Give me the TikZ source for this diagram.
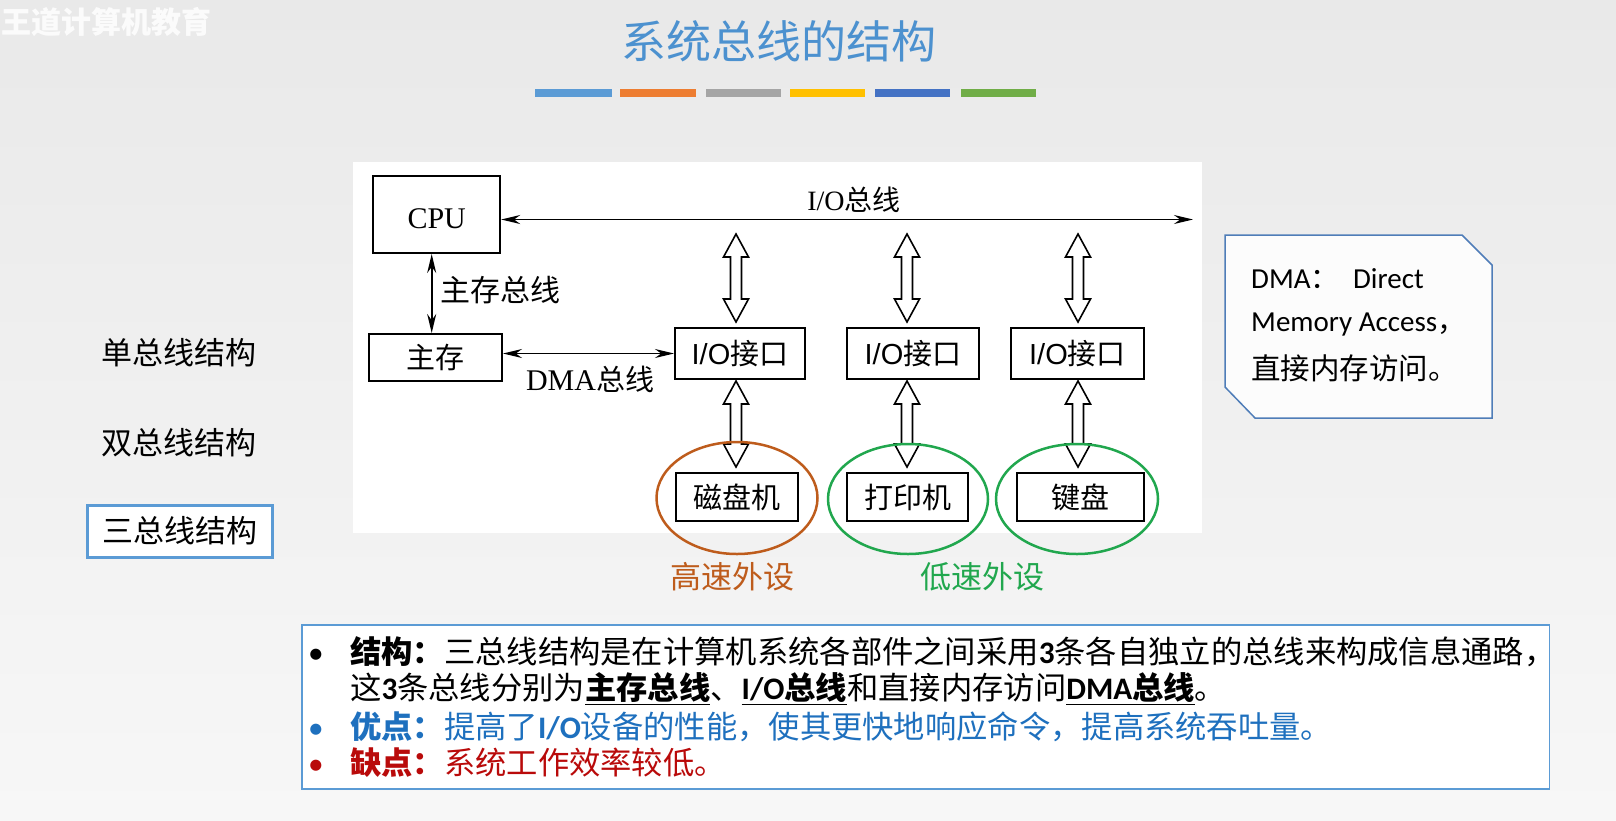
\documentclass[tikz,border=0pt]{standalone}
\usepackage{fontspec}
\setmainfont{Noto Sans CJK SC}
\newfontfamily\calfont{Carlito}
\newfontfamily\tmsfont{Liberation Serif}
\newfontfamily\arfont{Liberation Sans}
\usetikzlibrary{arrows.meta,calc}
\definecolor{bgtop}{RGB}{233,233,233}
\definecolor{bgbot}{RGB}{247,247,247}
\definecolor{titleblue}{RGB}{76,145,207}
\definecolor{barA}{HTML}{5B9BD5}
\definecolor{barB}{HTML}{ED7D31}
\definecolor{barC}{HTML}{A5A5A5}
\definecolor{barD}{HTML}{FFC000}
\definecolor{barE}{HTML}{4472C4}
\definecolor{barF}{HTML}{70AD47}
\definecolor{boxblue}{HTML}{5B9BD5}
\definecolor{noteblue}{RGB}{79,125,184}
\definecolor{hsbrown}{RGB}{190,92,28}
\definecolor{lsgreen}{RGB}{33,167,78}
\definecolor{txtblue}{RGB}{30,112,190}
\definecolor{txtred}{RGB}{185,10,10}
\newcommand\hollow[2]{%
  \draw[harrow] let \p1=(#1), \p2=(#2) in
    (\x1,\y1) -- (\x1+12.5pt,\y1-23pt) -- (\x1+5.5pt,\y1-23pt) -- (\x1+5.5pt,\y2+23pt)
    -- (\x1+12.5pt,\y2+23pt) -- (\x1,\y2) -- (\x1-12.5pt,\y2+23pt) -- (\x1-5.5pt,\y2+23pt)
    -- (\x1-5.5pt,\y1-23pt) -- (\x1-12.5pt,\y1-23pt) -- cycle;}
\begin{document}
\begin{tikzpicture}[x=1pt,y=-1pt,
  side/.style={inner sep=0pt, font=\fontsize{31}{31}\selectfont},
  blk/.style={draw=black, line width=2pt, fill=white, inner sep=0pt, font=\fontsize{29}{29}\selectfont},
  lbl/.style={inner sep=0pt, font=\fontsize{29}{29}\selectfont},
  bus/.style={line width=1.6pt, {Stealth[length=19pt,width=9pt]}-{Stealth[length=19pt,width=9pt]}},
  harrow/.style={draw=black, line width=1.6pt, fill=white, line join=miter},
  txt/.style={anchor=base west, inner sep=0pt, font=\fontsize{31.3}{31.3}\selectfont},
  note/.style={anchor=base west, inner sep=0pt, font=\fontsize{28.5}{28.5}\selectfont}]
\useasboundingbox (0,0) rectangle (1616,820);
\shade[top color=bgtop, bottom color=bgbot] (0,0) rectangle (1616,820);
% watermark
\node[anchor=west, inner sep=0pt, text=white, opacity=0.85, font=\fontsize{30}{30}\selectfont\bfseries] (wm) at (1,22) {王道计算机教育};
% title
\node[inner sep=0pt, text=titleblue, font=\fontsize{45}{45}\selectfont] (title) at (779,41) {系统总线的结构};
\fill[barA] (535,89) rectangle (612,97);
\fill[barB] (620,89) rectangle (696,97);
\fill[barC] (706,89) rectangle (781,97);
\fill[barD] (790,89) rectangle (865,97);
\fill[barE] (875,89) rectangle (950,97);
\fill[barF] (961,89) rectangle (1036,97);
% left menu
\node[side] (s1) at (179,353) {单总线结构};
\node[side] (s2) at (179,443) {双总线结构};
\node[side, draw=boxblue, line width=3pt, fill=white, minimum width=185pt, minimum height=52pt] (s3) at (179.5,531) {三总线结构};
% diagram panel
\fill[white] (353,162) rectangle (1202,533);
\node[blk, minimum width=127pt, minimum height=77pt] (cpu) at (436.7,214.5) {\raisebox{-14pt}[0pt][0pt]{\tmsfont\fontsize{30}{30}\selectfont CPU}};
\node[blk, minimum width=133pt, minimum height=47pt] (mem) at (435.5,357.5) {主存};
\node[blk, minimum width=130pt, minimum height=51pt] (io1) at (740,353.5) {{\arfont I/O}接口};
\node[blk, minimum width=132pt, minimum height=51pt] (io2) at (913,353.5) {{\arfont I/O}接口};
\node[blk, minimum width=133pt, minimum height=51pt] (io3) at (1077.5,353.5) {{\arfont I/O}接口};
\node[blk, minimum width=122pt, minimum height=48pt] (dev1) at (736.5,497) {磁盘机};
\node[blk, minimum width=121pt, minimum height=48pt] (dev2) at (907.5,497) {打印机};
\node[blk, minimum width=127pt, minimum height=48pt] (dev3) at (1080.5,497) {键盘};
% thin buses
\coordinate (busend) at (1193,219.5);
\draw[bus] ([yshift=-5pt]cpu.east) -- (busend);
\node[lbl, font=\fontsize{28}{28}\selectfont] (iolbl) at (854,200) {{\tmsfont I/O}总线};
\draw[bus] ([xshift=-5pt]cpu.south) -- ([xshift=-5pt]cpu.south |- mem.north);
\node[lbl, anchor=west, font=\fontsize{30}{30}\selectfont] (memlbl) at (440,290) {主存总线};
\draw[bus] (io1.west -| mem.east) -- (io1.west);
\node[lbl] (dmalbl) at (590,379) {{\tmsfont\fontsize{30}{30}\selectfont DMA}总线};
% hollow arrows
\foreach \i/\x in {1/736,2/907,3/1078}{
  \coordinate (t\i) at (\x,234);
  \coordinate (m\i) at ($(io\i.north -| \x,0)+(0,-5)$);
  \coordinate (n\i) at ($(io\i.south -| \x,0)+(0,1)$);
  \coordinate (d\i) at ($(dev\i.north -| \x,0)+(0,-5)$);
  \hollow{t\i}{m\i}
  \hollow{n\i}{d\i}
}
% circles
\draw[hsbrown, line width=2.5pt] (737,498) ellipse [x radius=80.5pt, y radius=56pt];
\draw[lsgreen, line width=2.5pt] (908,499) ellipse [x radius=80pt, y radius=55pt];
\draw[lsgreen, line width=2.5pt] (1077,499) ellipse [x radius=81pt, y radius=55pt];
\node[side, text=hsbrown] (hs) at (732,577) {高速外设};
\node[side, text=lsgreen] (ls) at (982,577) {低速外设};
% DMA note
\draw[noteblue, line width=1.5pt, fill=white!60!bgbot] (1225,235) -- (1462,235) -- (1492,265) -- (1492,418) -- (1255,418) -- (1225,387) -- cycle;
\node[note] (na) at (1251,288) {{\calfont\fontsize{29}{29}\selectfont DMA}：\hspace{14pt}{\calfont\fontsize{29}{29}\selectfont Direct}};
\node[note] (nb) at (1251,331) {{\calfont\fontsize{29}{29}\selectfont Memory Access}，};
\node[note, font=\fontsize{29.5}{29.5}\selectfont] (nc) at (1251,379) {直接内存访问。};
% bottom text box
\draw[boxblue, line width=1.5pt, fill=white] (302,625) rectangle (1549.5,789);
\node[txt] (b1) at (308,663) {\calfont •};
\node[txt] (l1) at (350,663) {\textbf{结构：}三总线结构是在计算机系统各部件之间采用{\calfont\bfseries 3}条各自独立的总线来构成信息通路，};
\node[txt] (l2) at (350,699.5) {这{\calfont\bfseries 3}条总线分别为\textbf{\underline{主存总线}}、\textbf{\underline{{\calfont I/O}总线}}和直接内存访问\textbf{\underline{{\calfont DMA}总线}}。};
\node[txt, text=txtblue] (b3) at (308,738) {\calfont •};
\node[txt, text=txtblue] (l3) at (350,738) {\textbf{优点：}提高了{\calfont\bfseries I/O}设备的性能，使其更快地响应命令，提高系统吞吐量。};
\node[txt, text=txtred] (b4) at (308,774.5) {\calfont •};
\node[txt, text=txtred] (l4) at (350,774.5) {\textbf{缺点：}系统工作效率较低。};
\end{tikzpicture}
\end{document}
